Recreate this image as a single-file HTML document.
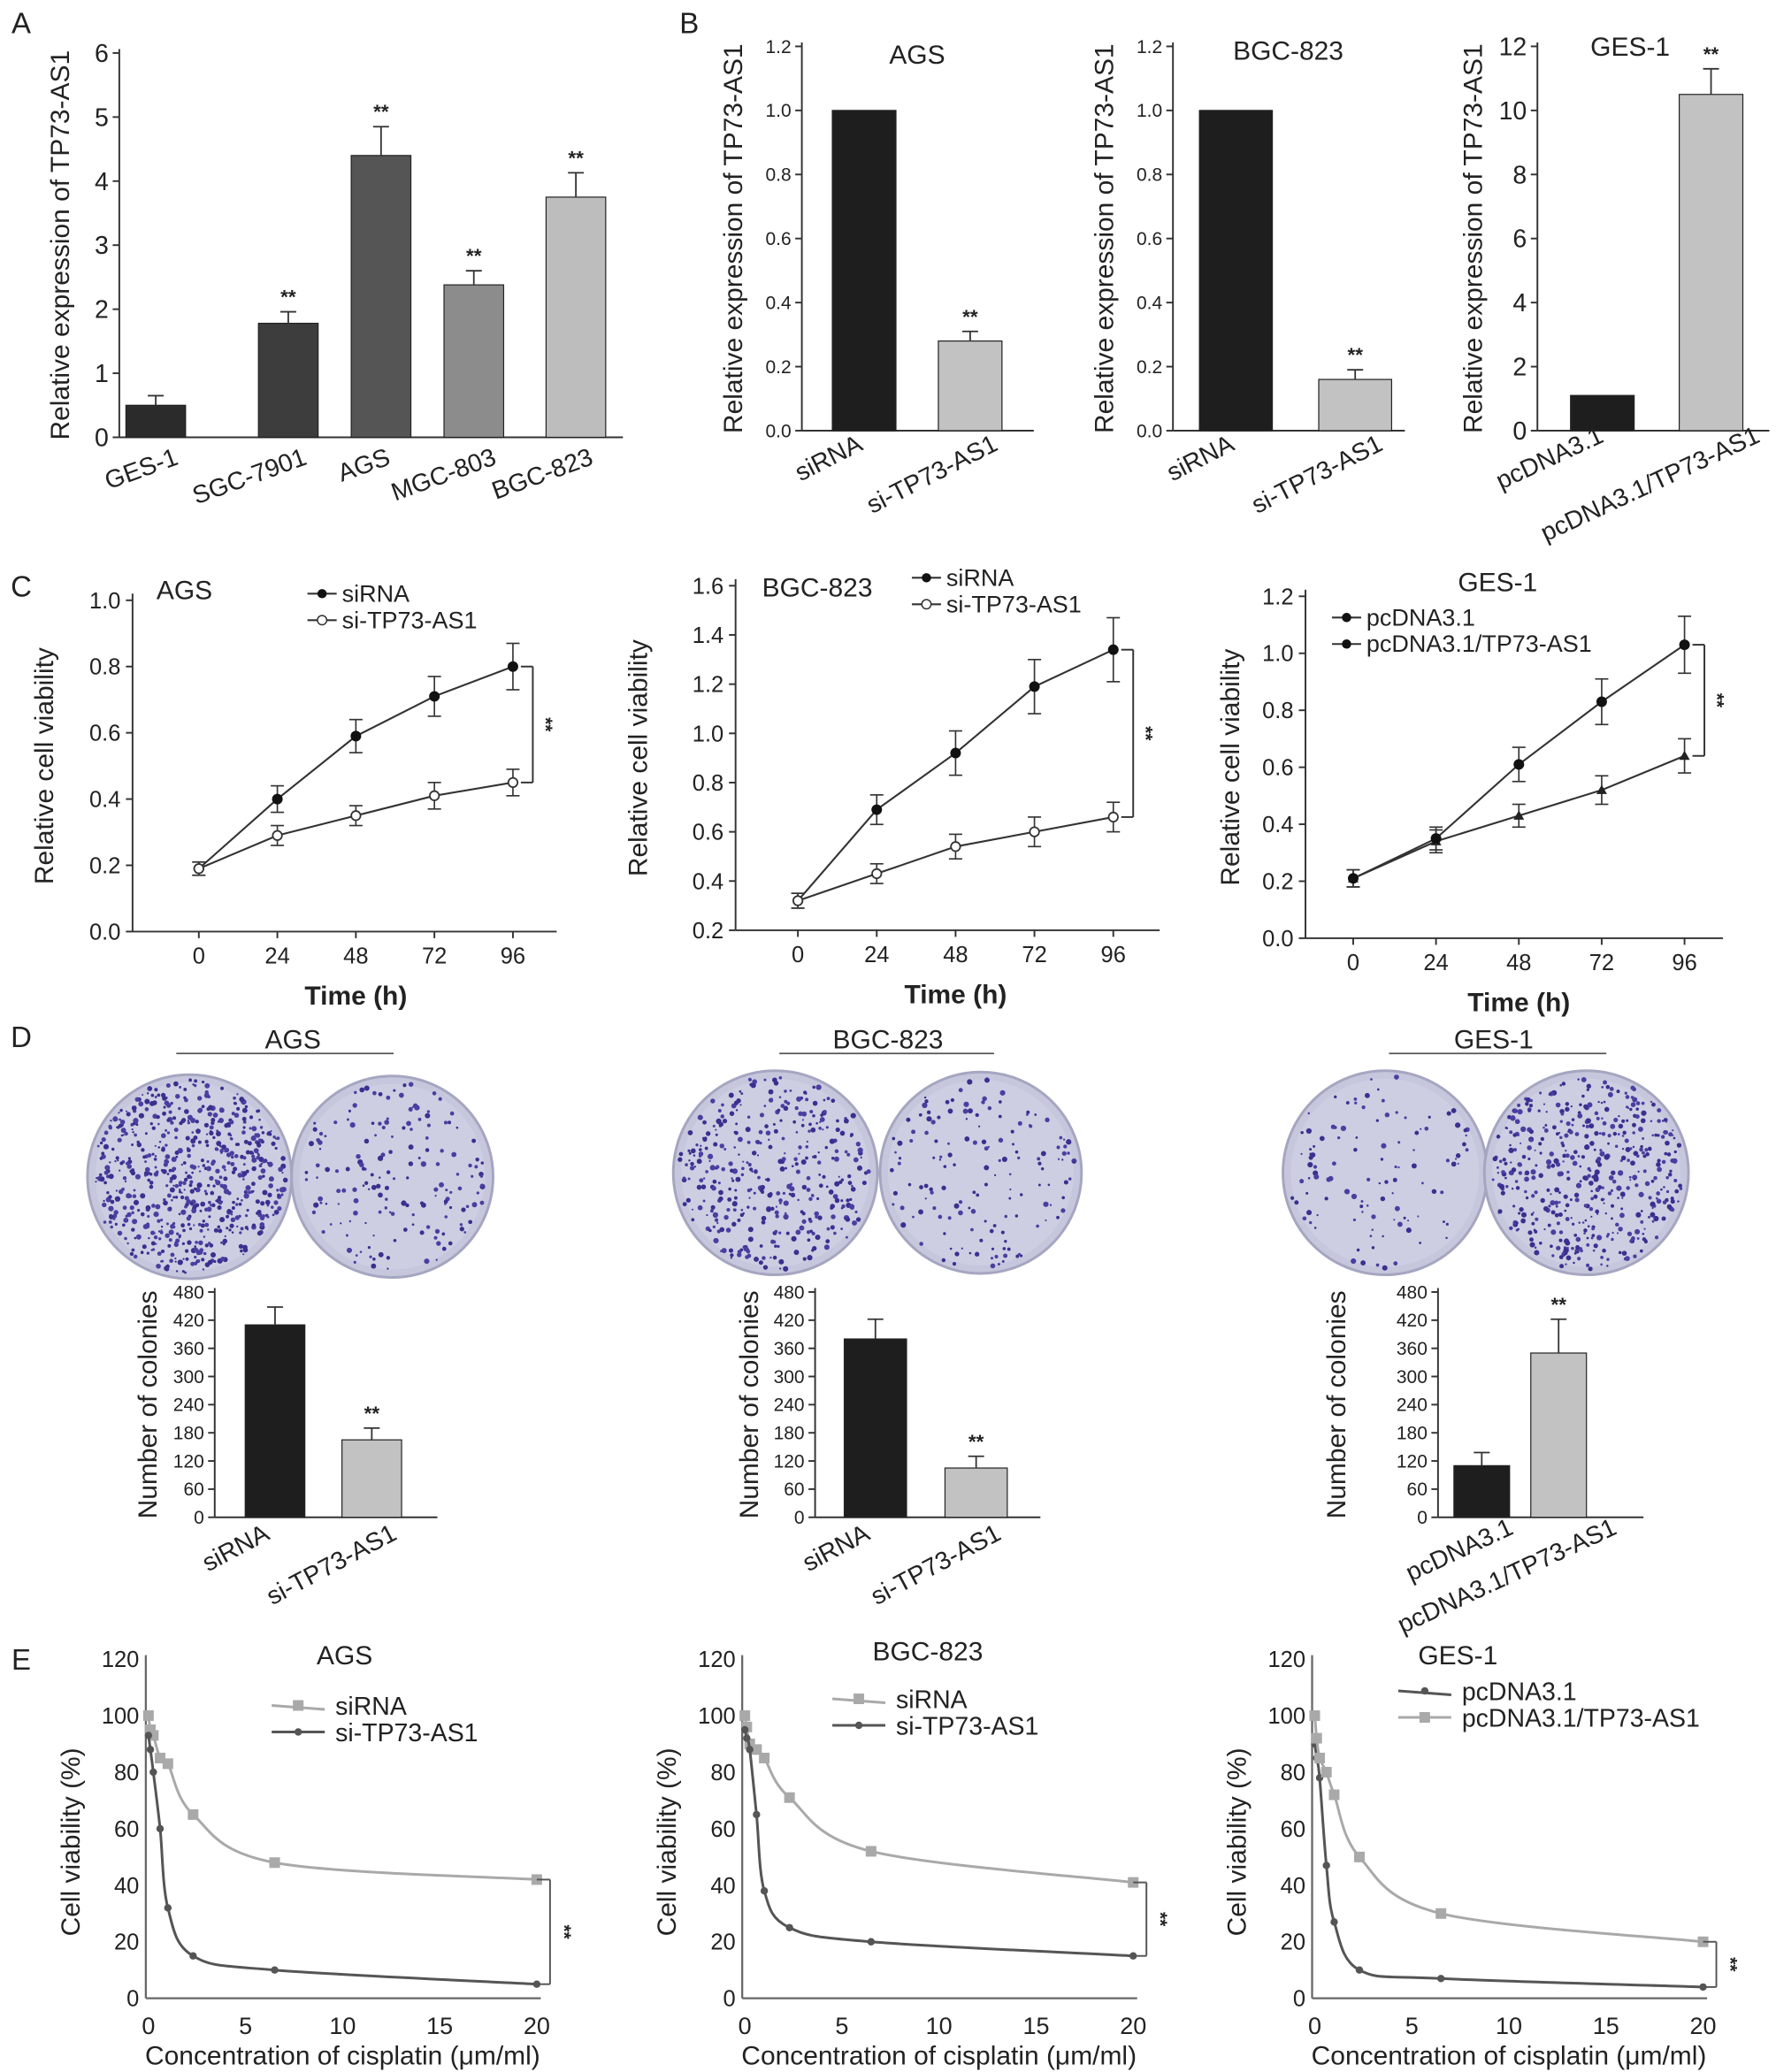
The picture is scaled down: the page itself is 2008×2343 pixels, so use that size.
<!DOCTYPE html>
<html><head><meta charset="utf-8">
<style>
html,body{margin:0;padding:0;background:#fff;}
svg{display:block;font-family:"Liberation Sans",Arial,sans-serif;}
</style></head>
<body>
<svg id="fig" width="2008" height="2343" viewBox="0 0 1340 1563.6" xmlns="http://www.w3.org/2000/svg"></svg>
<script>
// ---------- DATA ----------
const aCats = ["GES-1","SGC-7901","AGS","MGC-803","BGC-823"];
const aVals = [0.5,1.78,4.4,2.38,3.75];
const aErrs = [0.15,0.18,0.45,0.22,0.38];
const aStars = [false,true,true,true,true];

const bCatsSi = ["siRNA","si-TP73-AS1"];
const bCatsPc = ["pcDNA3.1","pcDNA3.1/TP73-AS1"];
const bAgsVals = [1.0,0.28];
const bAgsErrs = [0,0.03];
const bBgcVals = [1.0,0.16];
const bBgcErrs = [0,0.03];
const bGesVals = [1.1,10.5];
const bGesErrs = [0,0.8];
const bTicks12 = ["0.0","0.2","0.4","0.6","0.8","1.0","1.2"];
const bTicksG = ["0","2","4","6","8","10","12"];

const cTimes = [0,24,48,72,96];
const cAgsCtrl = [0.19,0.40,0.59,0.71,0.80];
const cAgsCtrlErr = [0.02,0.04,0.05,0.06,0.07];
const cAgsKd = [0.19,0.29,0.35,0.41,0.45];
const cAgsKdErr = [0.02,0.03,0.03,0.04,0.04];
const cBgcCtrl = [0.32,0.69,0.92,1.19,1.34];
const cBgcCtrlErr = [0.03,0.06,0.09,0.11,0.13];
const cBgcKd = [0.32,0.43,0.54,0.60,0.66];
const cBgcKdErr = [0.03,0.04,0.05,0.06,0.06];
const cGesCtrl = [0.21,0.34,0.43,0.52,0.64];
const cGesCtrlErr = [0.03,0.04,0.04,0.05,0.06];
const cGesOe = [0.21,0.35,0.61,0.83,1.03];
const cGesOeErr = [0.03,0.04,0.06,0.08,0.10];

const dAgsVals = [410,165];
const dAgsErrs = [38,25];
const dBgcVals = [380,105];
const dBgcErrs = [42,25];
const dGesVals = [110,350];
const dGesErrs = [28,72];
const dTicks = ["0","60","120","180","240","300","360","420","480"];
const dColonyCounts = [650,170,380,150,110,480];

const eConc = [0,0.1,0.25,0.6,1,2.3,6.5,20];
const eAgsCtrl = [100,95,93,85,83,65,48,42];
const eAgsKd = [93,88,80,60,32,15,10,5];
const eBgcCtrl = [100,96,90,88,85,71,52,41];
const eBgcKd = [95,92,88,65,38,25,20,15];
const eGesCtrl = [90,85,78,47,27,10,7,4];
const eGesOe = [100,92,85,80,72,50,30,20];

// ---------- HELPERS ----------
const svg = document.getElementById('fig');
const NS = "http://www.w3.org/2000/svg";
function mk(tag, attrs, name, parent){
  const e = document.createElementNS(NS, tag);
  for (const k in attrs) e.setAttribute(k, attrs[k]);
  
  
  (parent||svg).appendChild(e);
  return e;
}
function txt(x,y,s,size,name,opts){
  opts=opts||{};
  const a={x:x,y:y,'font-size':size,fill:opts.fill||'#222','text-anchor':opts.anchor||'middle'};
  if(opts.rot!==undefined) a.transform='rotate('+opts.rot+' '+x+' '+y+')';
  if(opts.weight) a['font-weight']=opts.weight;
  const t=mk('text',a,name);
  t.textContent=s; return t;
}
function line(x1,y1,x2,y2,name,col,w){
  return mk('line',{x1:x1,y1:y1,x2:x2,y2:y2,stroke:col||'#333','stroke-width':w||1.3},name);
}
function yScale(y0,y1,vmin,vmax){return v=>y0-(v-vmin)/(vmax-vmin)*(y0-y1);}

function barChart(cfg){
  const sy=yScale(cfg.y0,cfg.y1,cfg.vmin||0,cfg.vmax);
  line(cfg.ax,cfg.y0,cfg.ax,cfg.y1-3,cfg.id+'-y-axis');
  line(cfg.ax,cfg.y0,cfg.xEnd,cfg.y0,cfg.id+'-x-axis');
  cfg.ticks.forEach((t,i)=>{
    const v=(cfg.vmin||0)+i*(cfg.vmax-(cfg.vmin||0))/(cfg.ticks.length-1);
    const y=sy(v);
    line(cfg.ax-5,y,cfg.ax,y,cfg.id+'-y-tick');
    txt(cfg.ax-8,y+cfg.tickSize*0.35,t,cfg.tickSize,cfg.id+'-y-tick-label',{anchor:'end'});
  });
  cfg.vals.forEach((v,i)=>{
    const x=cfg.barX[i], w=cfg.barW, y=sy(v);
    mk('rect',{x:x,y:y,width:w,height:cfg.y0-y,fill:cfg.colors[i],stroke:'#222','stroke-width':0.8},cfg.id+'-bar-'+i);
    const e=cfg.errs[i];
    if(e>0){
      const cx=x+w/2, ye=sy(v+e);
      line(cx,y,cx,ye,cfg.id+'-error-bar','#333',1.2);
      line(cx-6,ye,cx+6,ye,cfg.id+'-error-cap','#333',1.2);
    }
    if(cfg.stars[i]) txt(x+w/2,sy(v+e)-6,'**',cfg.starSize||15,cfg.id+'-significance',{weight:'bold'});
    txt(x+w/2+cfg.labDx[i],cfg.y0+cfg.labDy,cfg.cats[i],cfg.labSize,cfg.id+'-x-label',{anchor:'end',rot:cfg.labRot});
  });
  txt(cfg.ytX,(cfg.y0+cfg.y1)/2,cfg.ytitle,cfg.ytSize,cfg.id+'-y-axis-title',{rot:-90});
  if(cfg.title) txt(cfg.title[0],cfg.title[1],cfg.title[2],20,cfg.id+'-title');
}

function smoothPath(pts){
  let d='M'+pts[0][0]+','+pts[0][1];
  for(let i=0;i<pts.length-1;i++){
    const p0=pts[i-1]||pts[i],p1=pts[i],p2=pts[i+1],p3=pts[i+2]||p2;
    const c1=[p1[0]+(p2[0]-p0[0])/6,p1[1]+(p2[1]-p0[1])/6];
    const c2=[p2[0]-(p3[0]-p1[0])/6,p2[1]-(p3[1]-p1[1])/6];
    d+=' C'+c1[0]+','+c1[1]+' '+c2[0]+','+c2[1]+' '+p2[0]+','+p2[1];
  }
  return d;
}

function lineChart(cfg){
  const sy=yScale(cfg.y0,cfg.y1,cfg.vmin,cfg.vmax);
  const sx=t=>cfg.x0+t/96*(cfg.x1-cfg.x0);
  line(cfg.ax,cfg.yBot,cfg.ax,cfg.y1-5,cfg.id+'-y-axis');
  line(cfg.ax,cfg.yBot,cfg.xEnd,cfg.yBot,cfg.id+'-x-axis');
  cfg.ticks.forEach((t,i)=>{
    const v=cfg.vmin+i*(cfg.vmax-cfg.vmin)/(cfg.ticks.length-1);
    const y=sy(v);
    line(cfg.ax-5,y,cfg.ax,y,cfg.id+'-y-tick');
    txt(cfg.ax-9,y+6,t,17,cfg.id+'-y-tick-label',{anchor:'end'});
  });
  cTimes.forEach(t=>{
    line(sx(t),cfg.yBot,sx(t),cfg.yBot+5,cfg.id+'-x-tick');
    txt(sx(t),cfg.yBot+24,String(t),17,cfg.id+'-x-tick-label');
  });
  txt((cfg.x0+cfg.x1)/2,cfg.yBot+55,'Time  (h)',20,cfg.id+'-x-axis-title',{weight:'bold'});
  txt(cfg.ytX,(cfg.yBot+cfg.y1)/2,'Relative cell viability',20,cfg.id+'-y-axis-title',{rot:-90});
  cfg.series.forEach((s,si)=>{
    const pts=cTimes.map((t,i)=>[sx(t),sy(s.vals[i])]);
    mk('polyline',{points:pts.map(p=>p.join(',')).join(' '),fill:'none',stroke:'#333','stroke-width':1.4},cfg.id+'-line-'+s.key);
    pts.forEach((p,i)=>{
      const e=s.errs[i];
      const ya=sy(s.vals[i]+e), yb=sy(s.vals[i]-e);
      line(p[0],ya,p[0],yb,cfg.id+'-error-bar','#333',1.1);
      line(p[0]-5,ya,p[0]+5,ya,cfg.id+'-error-cap','#333',1.1);
      line(p[0]-5,yb,p[0]+5,yb,cfg.id+'-error-cap','#333',1.1);
      if(s.marker==='open') mk('circle',{cx:p[0],cy:p[1],r:3.5,fill:'#fff',stroke:'#333','stroke-width':1.2},cfg.id+'-point-'+s.key);
      else if(s.marker==='tri') mk('path',{d:'M'+(p[0]-4)+','+(p[1]+3)+' L'+(p[0]+4)+','+(p[1]+3)+' L'+p[0]+','+(p[1]-4)+'Z',fill:'#222'},cfg.id+'-point-'+s.key);
      else mk('circle',{cx:p[0],cy:p[1],r:4,fill:'#111'},cfg.id+'-point-'+s.key);
    });
    const ly=cfg.legY+si*20;
    line(cfg.legX,ly,cfg.legX+22,ly,cfg.id+'-legend-line','#333',1.4);
    if(s.marker==='open') mk('circle',{cx:cfg.legX+11,cy:ly,r:3.5,fill:'#fff',stroke:'#333'},cfg.id+'-legend-marker');
    else mk('circle',{cx:cfg.legX+11,cy:ly,r:3.5,fill:'#111'},cfg.id+'-legend-marker');
    txt(cfg.legX+26,ly+6,s.label,18,cfg.id+'-legend-entry',{anchor:'start'});
  });
  const a=cfg.series[0].vals[4], b=cfg.series[1].vals[4];
  const bx=sx(96)+15, ya=sy(Math.max(a,b)), yb=sy(Math.min(a,b));
  line(sx(96)+6,ya,bx,ya,cfg.id+'-bracket');line(bx,ya,bx,yb,cfg.id+'-bracket');line(sx(96)+6,yb,bx,yb,cfg.id+'-bracket');
  txt(bx+5,(ya+yb)/2,'**',14,cfg.id+'-significance',{rot:90,weight:'bold'});
  txt(cfg.title[0],cfg.title[1],cfg.title[2],20,cfg.id+'-title',{anchor:'start'});
}

function curveChart(cfg){
  const sy=yScale(cfg.y0,cfg.y1,0,120);
  const sx=c=>cfg.x0+c/20*(cfg.x1-cfg.x0);
  line(cfg.ax,cfg.y0,cfg.ax,cfg.y1-3,cfg.id+'-y-axis','#666',1.5);
  line(cfg.ax,cfg.y0,cfg.x1+3,cfg.y0,cfg.id+'-x-axis','#666',1.5);
  [0,20,40,60,80,100,120].forEach(v=>txt(cfg.ax-5,sy(v)+6,String(v),17,cfg.id+'-y-tick-label',{anchor:'end'}));
  [0,5,10,15,20].forEach(v=>txt(sx(v),cfg.y0+27,String(v),18,cfg.id+'-x-tick-label'));
  txt((cfg.x0+cfg.x1)/2,cfg.y0+50,'Concentration of cisplatin (μm/ml)',20,cfg.id+'-x-axis-title');
  txt(cfg.ax-50,(cfg.y0+cfg.y1)/2+10,'Cell viability (%)',20,cfg.id+'-y-axis-title',{rot:-90});
  cfg.series.forEach((s,si)=>{
    const pts=eConc.map((c,i)=>[sx(c),sy(s.vals[i])]);
    mk('path',{d:smoothPath(pts),fill:'none',stroke:s.col,'stroke-width':2},cfg.id+'-curve-'+s.key);
    pts.forEach(p=>{
      if(s.marker==='sq') mk('rect',{x:p[0]-4,y:p[1]-4,width:8,height:8,fill:s.col},cfg.id+'-point-'+s.key);
      else mk('circle',{cx:p[0],cy:p[1],r:2.8,fill:s.col},cfg.id+'-point-'+s.key);
    });
    const ly=cfg.legY+si*20;
    line(cfg.legX,ly,cfg.legX+40,ly+(si?0:3),cfg.id+'-legend-line',s.col,2);
    if(s.marker==='sq') mk('rect',{x:cfg.legX+16,y:ly-4,width:8,height:8,fill:s.col},cfg.id+'-legend-marker');
    else mk('circle',{cx:cfg.legX+20,cy:ly,r:2.8,fill:s.col},cfg.id+'-legend-marker');
    txt(cfg.legX+48,ly+7,s.label,19,cfg.id+'-legend-entry',{anchor:'start'});
  });
  const a=cfg.series[0].vals[7], b=cfg.series[1].vals[7];
  const bx=sx(20)+10, ya=sy(Math.max(a,b)), yb=sy(Math.min(a,b));
  line(sx(20),ya,bx,ya,cfg.id+'-bracket','#555');line(bx,ya,bx,yb,cfg.id+'-bracket','#555');line(sx(20),yb,bx,yb,cfg.id+'-bracket','#555');
  txt(bx+6,(ya+yb)/2,'**',14,cfg.id+'-significance',{rot:90,weight:'bold'});
  txt(cfg.title[0],cfg.title[1],cfg.title[2],20,cfg.id+'-title');
}

let seed=12345;
function rnd(){seed=(seed*16807)%2147483647;return seed/2147483647;}
function plate(cx,cy,r,n,name){
  mk('circle',{cx:cx,cy:cy,r:r,fill:'#c6c7dc',stroke:'#a5a6c0','stroke-width':2},name);
  mk('circle',{cx:cx,cy:cy,r:r-6,fill:'#cdcee2'},name+'-inner');
  const g=mk('g',{},name+'-colonies');
  for(let i=0;i<n;i++){
    const a=rnd()*Math.PI*2, d=Math.sqrt(rnd())*(r-4);
    const c=document.createElementNS(NS,'circle');
    c.setAttribute('cx',cx+Math.cos(a)*d);c.setAttribute('cy',cy+Math.sin(a)*d);
    c.setAttribute('r',0.7+rnd()*1.4);c.setAttribute('fill',rnd()<0.5?'#3b2f8f':'#4a3fa0');
    
    
    g.appendChild(c);
  }
}

// ---------- PANEL LETTERS ----------
[['A',16,25],['B',520,25],['C',16,450],['D',16,790],['E',16,1260]].forEach(l=>txt(l[1],l[2],l[0],22,'panel-label-'+l[0].toLowerCase(),{}));

// ---------- PANEL A ----------
barChart({id:'a',ax:90,y0:330,y1:40,vmax:6,xEnd:470,ticks:['0','1','2','3','4','5','6'],tickSize:19,
 vals:aVals,errs:aErrs,stars:aStars,cats:aCats,barX:[95,195,265,335,412],barW:45,
 colors:['#2b2b2b','#3d3d3d','#555555','#8c8c8c','#bdbdbd'],labDx:[18,15,8,18,14],labDy:20,labSize:19,labRot:-20,
 ytitle:'Relative expression of TP73-AS1',ytSize:20,ytX:52});

// ---------- PANEL B ----------
barChart({id:'b-ags',ax:605,y0:325,y1:35,vmax:1.2,xEnd:780,ticks:bTicks12,tickSize:14,
 vals:bAgsVals,errs:bAgsErrs,stars:[false,true],cats:bCatsSi,barX:[628,708],barW:48,
 colors:['#1e1e1e','#c2c2c2'],labDx:[0,22],labDy:14,labSize:19,labRot:-27,
 ytitle:'Relative expression of TP73-AS1',ytSize:20,ytX:560,title:[692,48,'AGS']});
barChart({id:'b-bgc',ax:885,y0:325,y1:35,vmax:1.2,xEnd:1060,ticks:bTicks12,tickSize:14,
 vals:bBgcVals,errs:bBgcErrs,stars:[false,true],cats:bCatsSi,barX:[905,995],barW:55,
 colors:['#1e1e1e','#c2c2c2'],labDx:[0,22],labDy:14,labSize:19,labRot:-27,
 ytitle:'Relative expression of TP73-AS1',ytSize:20,ytX:840,title:[972,45,'BGC-823']});
barChart({id:'b-ges',ax:1160,y0:325,y1:35,vmax:12,xEnd:1335,ticks:bTicksG,tickSize:19,
 vals:bGesVals,errs:bGesErrs,stars:[false,true],cats:bCatsPc,barX:[1185,1267],barW:48,
 colors:['#1e1e1e','#c2c2c2'],labDx:[2,38],labDy:8,labSize:19,labRot:-25,starSize:15,
 ytitle:'Relative expression of TP73-AS1',ytSize:20,ytX:1118,title:[1230,42,'GES-1']});

// ---------- PANEL C ----------
lineChart({id:'c-ags',ax:100,yBot:703,y0:703,y1:453,vmin:0,vmax:1.0,xEnd:420,x0:150,x1:387,
 ticks:['0.0','0.2','0.4','0.6','0.8','1.0'],ytX:40,legX:232,legY:448,title:[118,452,'AGS'],
 series:[{key:'sirna',label:'siRNA',vals:cAgsCtrl,errs:cAgsCtrlErr,marker:'fill'},
         {key:'si-tp73-as1',label:'si-TP73-AS1',vals:cAgsKd,errs:cAgsKdErr,marker:'open'}]});
lineChart({id:'c-bgc',ax:555,yBot:702,y0:702,y1:442,vmin:0.2,vmax:1.6,xEnd:875,x0:602,x1:840,
 ticks:['0.2','0.4','0.6','0.8','1.0','1.2','1.4','1.6'],ytX:488,legX:688,legY:436,title:[575,450,'BGC-823'],
 series:[{key:'sirna',label:'siRNA',vals:cBgcCtrl,errs:cBgcCtrlErr,marker:'fill'},
         {key:'si-tp73-as1',label:'si-TP73-AS1',vals:cBgcKd,errs:cBgcKdErr,marker:'open'}]});
lineChart({id:'c-ges',ax:985,yBot:708,y0:708,y1:450,vmin:0,vmax:1.2,xEnd:1300,x0:1021,x1:1271,
 ticks:['0.0','0.2','0.4','0.6','0.8','1.0','1.2'],ytX:935,legX:1005,legY:466,title:[1100,446,'GES-1'],
 series:[{key:'pcdna3-1',label:'pcDNA3.1',vals:cGesCtrl,errs:cGesCtrlErr,marker:'tri'},
         {key:'pcdna3-1-tp73-as1',label:'pcDNA3.1/TP73-AS1',vals:cGesOe,errs:cGesOeErr,marker:'fill'}]});

// ---------- PANEL D ----------
[[133,297,221,'AGS'],[588,750,670,'BGC-823'],[1048,1212,1127,'GES-1']].forEach((d,i)=>{
  line(d[0],795,d[1],795,'d-group-line-'+i,'#555',1.2);
  txt(d[2],791,d[3],20,'d-plate-title-'+i);
});
plate(143,888,77,dColonyCounts[0],'plate-ags-sirna');
plate(296,888,76,dColonyCounts[1],'plate-ags-si');
plate(585,885,77,dColonyCounts[2],'plate-bgc-sirna');
plate(740,885,76,dColonyCounts[3],'plate-bgc-si');
plate(1045,885,77,dColonyCounts[4],'plate-ges-pcdna');
plate(1197,885,77,dColonyCounts[5],'plate-ges-oe');

barChart({id:'d-ags',ax:162,y0:1145,y1:975,vmax:480,xEnd:330,ticks:dTicks,tickSize:14,
 vals:dAgsVals,errs:dAgsErrs,stars:[false,true],cats:bCatsSi,barX:[185,258],barW:45,
 colors:['#1e1e1e','#c2c2c2'],labDx:[-3,20],labDy:16,labSize:19,labRot:-28,
 ytitle:'Number of colonies',ytSize:20,ytX:118});
barChart({id:'d-bgc',ax:615,y0:1145,y1:975,vmax:480,xEnd:785,ticks:dTicks,tickSize:14,
 vals:dBgcVals,errs:dBgcErrs,stars:[false,true],cats:bCatsSi,barX:[637,713],barW:47,
 colors:['#1e1e1e','#c2c2c2'],labDx:[-3,20],labDy:16,labSize:19,labRot:-28,
 ytitle:'Number of colonies',ytSize:20,ytX:572});
barChart({id:'d-ges',ax:1085,y0:1145,y1:975,vmax:480,xEnd:1240,ticks:dTicks,tickSize:14,
 vals:dGesVals,errs:dGesErrs,stars:[false,true],cats:bCatsPc,barX:[1097,1155],barW:42,
 colors:['#1e1e1e','#c2c2c2'],labDx:[25,45],labDy:12,labSize:19,labRot:-25,
 ytitle:'Number of colonies',ytSize:20,ytX:1015});

// ---------- PANEL E ----------
curveChart({id:'e-ags',ax:110,y0:1508,y1:1252,x0:112,x1:405,legX:205,legY:1287,title:[260,1256,'AGS'],
 series:[{key:'sirna',label:'siRNA',vals:eAgsCtrl,col:'#a9a9a9',marker:'sq'},
         {key:'si-tp73-as1',label:'si-TP73-AS1',vals:eAgsKd,col:'#555',marker:'dot'}]});
curveChart({id:'e-bgc',ax:560,y0:1508,y1:1252,x0:562,x1:855,legX:628,legY:1282,title:[700,1253,'BGC-823'],
 series:[{key:'sirna',label:'siRNA',vals:eBgcCtrl,col:'#a9a9a9',marker:'sq'},
         {key:'si-tp73-as1',label:'si-TP73-AS1',vals:eBgcKd,col:'#555',marker:'dot'}]});
curveChart({id:'e-ges',ax:990,y0:1508,y1:1252,x0:992,x1:1285,legX:1055,legY:1276,title:[1100,1256,'GES-1'],
 series:[{key:'pcdna3-1',label:'pcDNA3.1',vals:eGesCtrl,col:'#555',marker:'dot'},
         {key:'pcdna3-1-tp73-as1',label:'pcDNA3.1/TP73-AS1',vals:eGesOe,col:'#a9a9a9',marker:'sq'}]});
</script>
</body></html>
